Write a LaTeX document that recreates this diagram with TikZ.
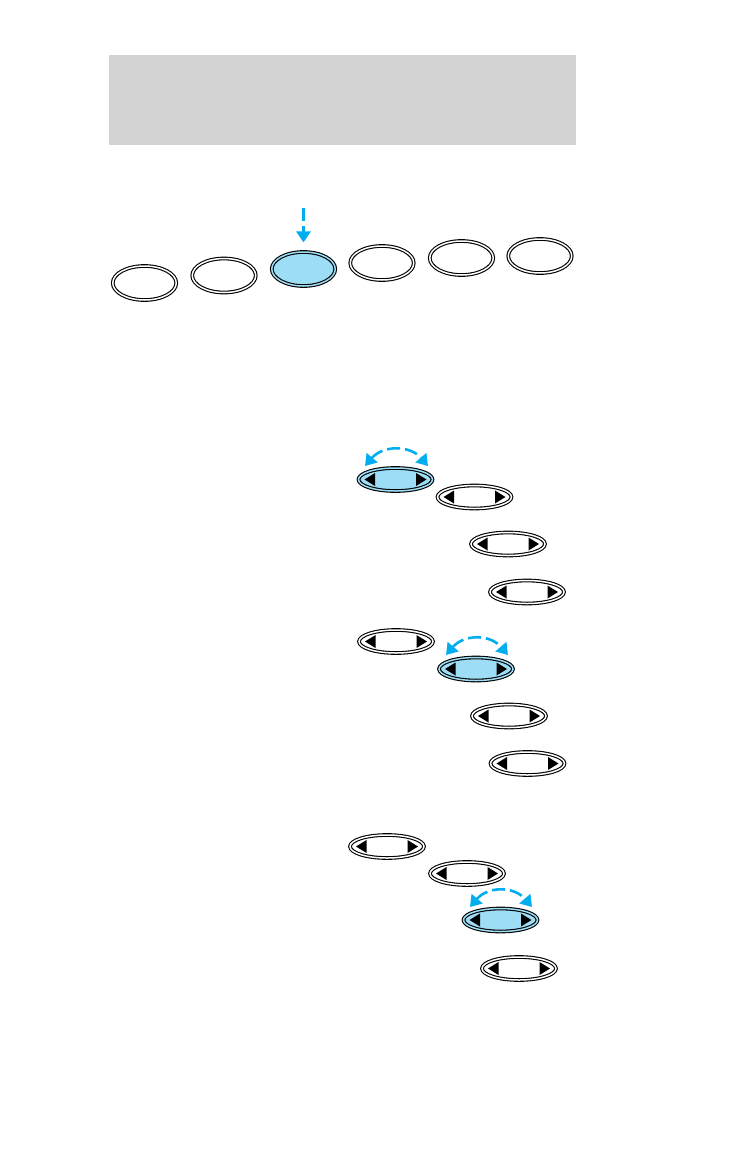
\documentclass[tikz,border=0pt]{standalone}
\usepackage{tikz}
\usetikzlibrary{shapes.geometric,arrows.meta}
\definecolor{lcdgray}{HTML}{D3D3D3}
\definecolor{pushblue}{HTML}{9EDDF6}
\definecolor{hintcyan}{HTML}{00AEEF}

\begin{document}
\begin{tikzpicture}[x=1pt,y=-1pt]
\tikzstyle{knob}=[ellipse,draw=black,line width=1.1pt,double=white,double distance=1.5pt,fill=white,inner sep=0pt,minimum width=63.5pt,minimum height=34pt]
\tikzstyle{knobon}=[knob,double=pushblue,fill=pushblue]
\tikzstyle{rocker}=[knob,minimum width=74pt,minimum height=23pt,
  path picture={\fill[black,shift={(path picture bounding box.center)}]
    (-31,0) -- (-20.5,-6.5) -- (-20.5,6.5) -- cycle (31,0) -- (20.5,-6.5) -- (20.5,6.5) -- cycle;}]
\tikzstyle{rockeron}=[rocker,double=pushblue,fill=pushblue]
\tikzstyle{hint}=[draw=hintcyan,line width=3pt,dash pattern=on 13pt off 5pt,-{Triangle[length=11pt,width=14pt]}]
\tikzstyle{swing}=[hint,line width=2.6pt,{Triangle[length=11pt,width=14pt]}-{Triangle[length=11pt,width=14pt]}]
\useasboundingbox (0,0) rectangle (747,1149);

\fill[lcdgray] (109,55) rectangle (576,145);

\node[knob](k1) at (144.5,283) {};
\node[knob](k2) at (224,275.5) {};
\node[knobon](k3) at (303.5,269) {};
\node[knob](k4) at (382,263) {};
\node[knob](k5) at (461.5,258) {};
\node[knob](k6) at (540,256) {};

\coordinate (push) at (303.5,208);
\draw[hint,shorten >=9pt] (push) -> (k3.north);

\node[rockeron](r1) at (395.5,479.5) {};
\node[rocker](r2) at (474.5,497) {};
\node[rocker](r3) at (508,544) {};
\node[rocker](r4) at (527,592) {};

\node[rocker](r5) at (396,641.5) {};
\node[rockeron](r6) at (476,669) {};
\node[rocker](r7) at (509,716) {};
\node[rocker](r8) at (527.5,763.5) {};

\node[rocker](r9) at (387,846.5) {};
\node[rocker](r10) at (467,873.5) {};
\node[rockeron](r11) at (500.5,920) {};
\node[rocker](r12) at (519,968.5) {};

\coordinate (s1a) at ([shift={(-30.5,-13.5)}]r1.center);
\coordinate (s1b) at ([shift={(32.5,-13.5)}]r1.center);
\coordinate (s6a) at ([shift={(-30,-14)}]r6.center);
\coordinate (s6b) at ([shift={(32,-14)}]r6.center);
\coordinate (s11a) at ([shift={(-30.5,-13)}]r11.center);
\coordinate (s11b) at ([shift={(31.5,-13)}]r11.center);

\draw[swing] (s1a) .. controls +(18,-21) and +(-18,-21) .. (s1b);
\draw[swing] (s6a) .. controls +(18,-21) and +(-18,-21) .. (s6b);
\draw[swing] (s11a) .. controls +(18,-21) and +(-18,-21) .. (s11b);
\end{tikzpicture}
\end{document}
